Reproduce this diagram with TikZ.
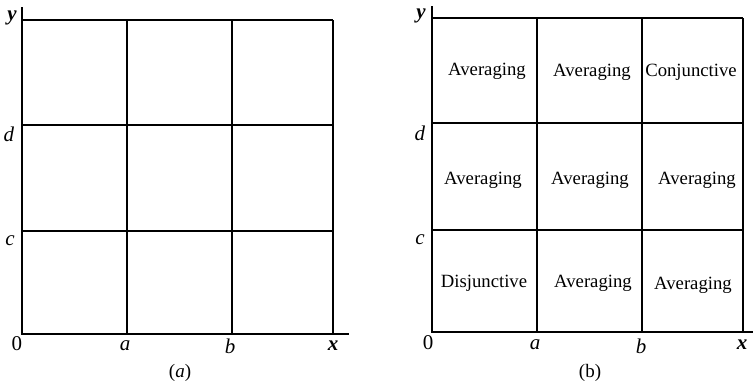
\documentclass[tikz,border=0pt]{standalone}
\usepackage{fontspec}
\setmainfont{Liberation Serif}
\usetikzlibrary{positioning}
\begin{document}
\begin{tikzpicture}[x=1pt,y=-1pt,font=\fontsize{18.7}{20}\selectfont,ln/.style={line width=1.5pt},lab/.style={inner sep=0pt,anchor=base,font=\fontsize{21}{22}\selectfont},capt/.style={inner sep=0pt,anchor=base,font=\fontsize{19}{20}\selectfont},cell/.style={inner sep=0pt,anchor=base}]
\useasboundingbox (0,0) rectangle (753,389);
% panel (a)
\draw[ln] (22,7)--(22,334)--(349,334);
\draw[ln] (22,20)--(333,20);\draw[ln] (22,125)--(333,125);\draw[ln] (22,231)--(333,231);
\draw[ln] (127,20)--(127,334);\draw[ln] (232,20)--(232,334);\draw[ln] (333,20)--(333,334);
\node[lab] (ya) at (12,20) {\textbf{\textit{y}}};
\node[lab] (da) at (9,141) {\textit{d}};
\node[lab] (ca) at (10,245) {\textit{c}};
\node[lab] (oa) at (17,350) {0};
\node[lab] (aa) at (125,350) {\textit{a}};
\node[lab] (ba) at (230,353) {\textit{b}};
\node[lab] (xa) at (333,350) {\textbf{\textit{x}}};
\node[capt] (capa) at (180,377) {(\textit{a})};
% panel (b)
\draw[ln] (432,6)--(432,332)--(753,332);
\draw[ln] (432,18)--(743,18);\draw[ln] (432,123)--(743,123);\draw[ln] (432,230)--(743,230);
\draw[ln] (537,18)--(537,332);\draw[ln] (642,18)--(642,332);\draw[ln] (743,18)--(743,332);
\node[lab] (yb) at (421,18) {\textbf{\textit{y}}};
\node[lab] (db) at (420,140) {\textit{d}};
\node[lab] (cb) at (420,244) {\textit{c}};
\node[lab] (ob) at (428,349) {0};
\node[lab] (ab) at (535,349) {\textit{a}};
\node[lab] (bb) at (641,353) {\textit{b}};
\node[lab] (xb) at (742,349) {\textbf{\textit{x}}};
\node[capt] (capb) at (590,377) {(b)};
\node[cell] (c13) at (487,75) {Averaging};
\node[cell] (c23) at (592,76) {Averaging};
\node[cell] (c33) at (691,76) {Conjunctive};
\node[cell] (c12) at (483,184) {Averaging};
\node[cell] (c22) at (590,184) {Averaging};
\node[cell] (c32) at (697,184) {Averaging};
\node[cell] (c11) at (484,287) {Disjunctive};
\node[cell] (c21) at (593,287) {Averaging};
\node[cell] (c31) at (693,289) {Averaging};
\end{tikzpicture}
\end{document}
